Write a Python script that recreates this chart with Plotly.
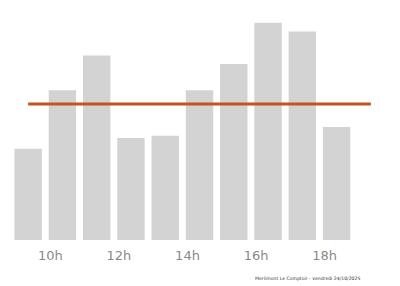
import plotly.graph_objects as go

hours = [9, 10, 11, 12, 13, 14, 15, 16, 17, 18, 19]
values = [42, 69, 85, 47, 48, 69, 81, 100, 96, 52, 0]
tick_hours = [10, 12, 14, 16, 18]
tick_labels = ["10h", "12h", "14h", "16h", "18h"]
caption = "Merlimont Le Comptoir - vendredi 24/10/2025"

mean_val = sum(values) / len(values)

fig = go.Figure()
fig.add_trace(go.Bar(x=hours, y=values, marker_color="#d3d3d3", width=0.8,
                     marker_line_width=0))
fig.add_trace(go.Scatter(x=[hours[0], hours[-1]], y=[mean_val, mean_val], mode="lines",
                         line=dict(color="#c4531f", width=3)))

fig.update_layout(
    width=400, height=286,
    margin=dict(l=11, r=12, t=12, b=46),
    paper_bgcolor="white", plot_bgcolor="white",
    showlegend=False,
    font=dict(family="DejaVu Sans"),
    xaxis=dict(range=[hours[0] - 0.5, hours[-1] + 0.5],
               tickvals=[h - 0.35 for h in tick_hours], ticktext=tick_labels,
               showgrid=False, zeroline=False, showline=False,
               tickfont=dict(size=13, color="#8a8a8a"), ticklabelstandoff=6),
    yaxis=dict(range=[0, 105], visible=False),
    annotations=[dict(text=caption, x=(307 - 11) / 377, y=(286 - 278 - 46) / 228,
                      xref="paper", yref="paper", xanchor="center", yanchor="middle",
                      showarrow=False, font=dict(size=4.6, color="#333333"))],
)
fig.write_html("out.html")
